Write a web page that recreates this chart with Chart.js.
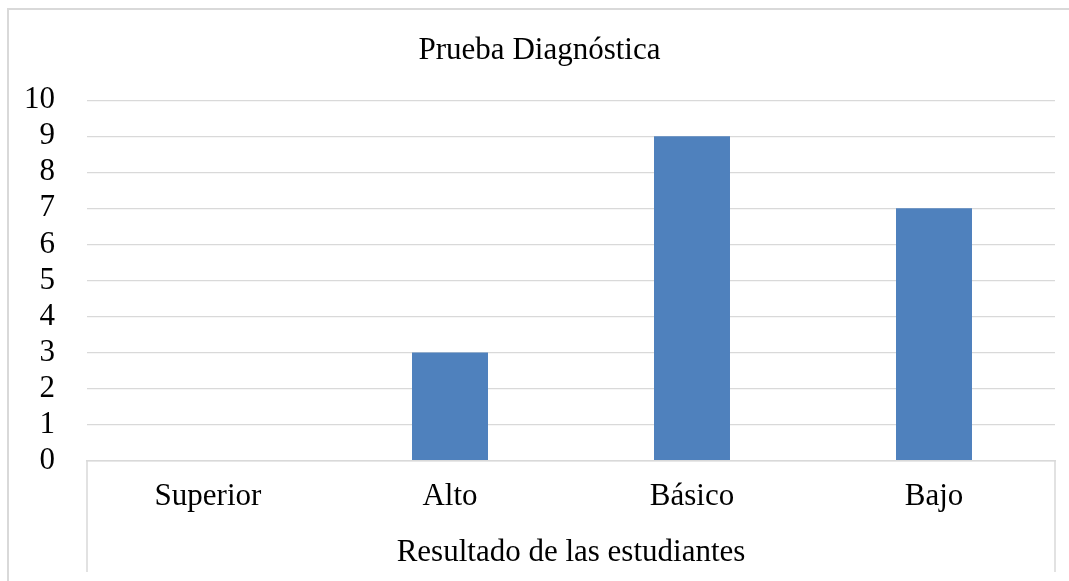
<!DOCTYPE html>
<html lang="es">
<head>
<meta charset="utf-8">
<title>Prueba Diagnóstica</title>
<script src="https://cdn.jsdelivr.net/npm/chart.js@4/dist/chart.umd.min.js"></script>
<style>
  html, body { margin: 0; padding: 0; background: #fff; overflow: hidden; }
  #wrap { position: relative; width: 1069px; height: 581px; }
  #frame {
    position: absolute; left: 7px; top: 8px; width: 1100px; height: 600px;
    border-left: 2px solid #D9D9D9; border-top: 2px solid #D9D9D9;
    box-sizing: border-box; pointer-events: none;
  }
  canvas { position: absolute; left: 0; top: 0; }
</style>
</head>
<body>
<div id="wrap">
  <canvas id="chart" width="1069" height="581"></canvas>
  <div id="frame"></div>
</div>
<script>
const categories = ['Superior', 'Alto', 'Básico', 'Bajo'];
const values = [0, 3, 9, 7];
const chartTitle = 'Prueba Diagnóstica';
const axisTitle = 'Resultado de las estudiantes';

const FONT = "'Liberation Serif', 'Times New Roman', serif";
const GRID = '#D9D9D9';

// Vertical boundary lines at both ends of the category axis, running down past the labels
const edgeLines = {
  id: 'edgeLines',
  afterDraw(chart) {
    const { ctx, chartArea } = chart;
    const x = chart.scales.x;
    ctx.save();
    ctx.strokeStyle = GRID;
    ctx.lineWidth = 1.5;
    [x.left, x.right].forEach(px => {
      ctx.beginPath();
      ctx.moveTo(px, chartArea.bottom);
      ctx.lineTo(px, chart.height - 9);
      ctx.stroke();
    });
    ctx.restore();
  }
};

new Chart(document.getElementById('chart'), {
  type: 'bar',
  data: {
    labels: categories,
    datasets: [{
      data: values,
      backgroundColor: '#4F81BD',
      borderWidth: 0,
      categoryPercentage: 1,
      barPercentage: 0.314
    }]
  },
  plugins: [edgeLines],
  options: {
    responsive: false,
    animation: false,
    events: [],
    layout: { padding: { top: 24, left: 24, right: 14, bottom: 0 } },
    plugins: {
      legend: { display: false },
      tooltip: { enabled: false },
      title: {
        display: true,
        text: chartTitle,
        color: '#000',
        font: { family: FONT, size: 31, weight: 'normal' },
        padding: { top: 8, bottom: 31 }
      }
    },
    scales: {
      x: {
        grid: { display: false, drawTicks: false },
        border: { display: true, color: GRID, width: 1.5 },
        ticks: {
          color: '#000',
          font: { family: FONT, size: 31 },
          padding: 18,
          maxRotation: 0
        },
        title: {
          display: true,
          text: axisTitle,
          color: '#000',
          font: { family: FONT, size: 31 },
          padding: { top: 0, bottom: 10 }
        },
        afterFit(scale) {
          // labels sit inside their categories, so no extra side room is needed
          scale.paddingLeft = 0;
          scale.paddingRight = 0;
        }
      },
      y: {
        min: 0,
        max: 10,
        grid: { color: GRID, lineWidth: 1.3, drawTicks: false },
        border: { display: false },
        ticks: {
          stepSize: 1,
          autoSkip: false,
          color: '#000',
          font: { family: FONT, size: 31 },
          padding: 32
        },
        afterFit(scale) {
          // widest label ("10") plus the gap to the plot
          scale.width = 63;
        }
      }
    }
  }
});
</script>
</body>
</html>
